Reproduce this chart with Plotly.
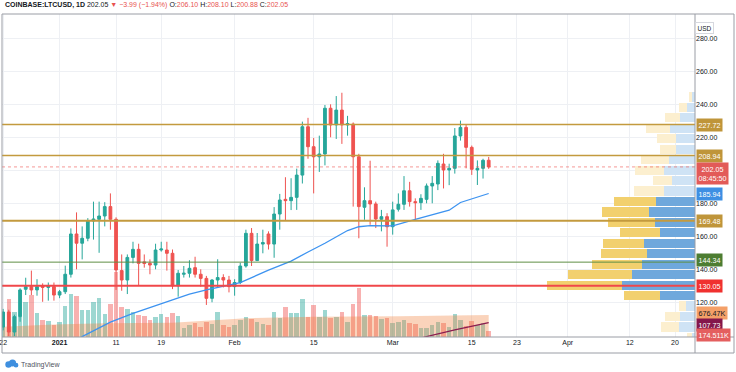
import plotly.graph_objects as go
import pandas as pd

# ---------------- data ----------------
first_day = "2020-12-22"
opens  = [105.0,114.1,102.0,111.3,127.9,129.5,127.5,130.0,129.0,129.5,
          124.4,126.4,137.0,161.4,155.8,158.8,169.3,170.3,172.3,178.0,
          170.3,139.2,133.5,147.2,152.1,144.5,143.6,142.6,151.7,151.7,
          149.7,130.0,137.0,137.6,141.0,137.0,134.5,122.4,133.5,135.0,
          133.5,129.5,132.0,142.0,161.8,145.3,155.3,161.4,155.3,173.5,
          182.4,181.6,183.6,197.1,226.4,214.3,208.2,209.9,237.6,227.5,
          236.5,227.5,228.0,208.2,177.6,181.6,179.6,170.3,171.9,165.8,
          176.4,179.4,187.6,181.0,180.4,182.4,190.5,191.7,203.8,200.2,
          201.2,220.8,226.0,213.9,200.2,201.2,206.10]
highs  = [116.0,115.5,112.5,128.5,134.9,139.2,134.0,131.5,132.0,132.0,
          127.5,142.2,164.8,174.5,166.0,171.0,181.0,181.0,180.7,186.0,
          171.5,149.0,149.0,156.7,155.5,149.0,146.0,155.5,156.7,156.7,
          152.0,139.6,142.0,145.5,147.6,140.0,136.0,134.0,146.1,137.0,
          136.0,134.0,144.0,164.0,165.0,162.0,164.0,163.0,177.7,185.7,
          195.8,195.2,201.0,229.5,231.8,219.6,221.0,239.6,240.0,245.0,
          247.0,233.0,229.0,210.0,189.7,205.8,181.0,176.0,174.0,181.0,
          186.0,196.5,193.0,183.0,185.5,192.0,196.5,206.0,210.0,204.0,
          225.6,230.1,228.0,215.0,206.0,207.0,208.10]
lows   = [103.0,99.5,99.5,108.2,124.4,124.4,124.0,120.3,121.0,121.0,
          122.5,125.0,135.0,140.0,146.0,157.0,158.0,150.0,166.0,164.0,
          127.5,127.0,125.0,143.6,130.5,141.0,137.0,140.0,150.7,139.2,
          128.0,123.4,135.0,135.0,135.0,129.5,118.4,120.0,129.0,129.0,
          126.0,124.0,131.0,141.0,142.0,145.0,149.7,152.0,147.0,164.0,
          169.9,175.9,176.0,192.0,207.0,186.0,199.0,203.0,220.0,219.0,
          216.0,221.0,178.0,158.8,170.0,167.0,165.0,163.0,153.7,161.0,
          175.0,176.0,178.0,169.9,176.0,180.0,180.0,188.0,189.0,191.0,
          198.0,218.0,201.2,197.2,191.1,195.0,200.88]
closes = [114.1,102.0,111.3,127.5,129.5,127.5,129.5,129.0,130.0,124.4,
          126.4,137.0,161.4,155.8,158.8,169.3,170.5,172.3,178.0,170.3,
          139.6,133.5,147.2,152.1,143.6,143.5,142.6,151.7,152.3,149.7,
          130.0,137.6,137.6,140.6,137.0,134.5,122.4,133.5,135.0,133.5,
          129.5,132.0,142.0,161.8,145.3,155.3,156.2,155.3,173.5,182.0,
          181.6,183.6,197.1,226.4,214.3,208.2,209.9,237.6,227.5,236.5,
          227.5,228.3,208.2,178.0,181.6,179.6,170.5,171.9,165.8,176.0,
          179.4,187.6,181.0,180.4,183.0,190.5,192.1,204.2,200.2,201.2,
          220.8,226.0,213.9,200.6,201.2,206.04,202.05]
volumes_k = [777,1157,777,623,1084,1289,728,522,500,368,
             470,961,1320,1259,829,829,1084,1207,706,1013,
             1996,921,860,768,675,645,522,614,706,614,
             737,645,276,368,430,307,461,399,768,368,
             307,368,522,614,553,461,399,368,768,583,
             921,737,737,1167,614,982,614,829,583,614,
             768,461,1013,1504,675,675,645,553,583,430,
             461,522,430,399,276,276,368,461,430,307,
             706,522,338,491,368,430,174.511]

ma_dates = ["2021-01-04","2021-01-05","2021-01-10","2021-01-14","2021-01-21",
            "2021-01-24","2021-01-27","2021-02-02","2021-02-07","2021-02-11",
            "2021-02-14","2021-02-17","2021-02-21","2021-02-23","2021-02-25",
            "2021-02-28","2021-03-01","2021-03-05","2021-03-11","2021-03-13",
            "2021-03-18"]
ma_values = [96.5,99.2,108.0,113.3,121.4,125.0,127.5,131.9,139.5,145.0,
             150.5,155.8,163.5,165.8,166.5,166.6,166.3,170.2,175.8,180.5,185.94]

ma_long_dates = ["2021-03-05","2021-03-06","2021-03-12","2021-03-18"]
ma_long_values = [97.8,98.4,103.3,107.73]

vol_ma_dates = ["2020-12-22","2020-12-31","2021-01-09","2021-01-21",
                "2021-02-03","2021-02-15","2021-03-02","2021-03-18"]
vol_ma_values_k = [316,380,420,440,574,623,640,676.47]

levels = [227.72, 208.94, 169.48, 144.34, 130.05]
level_colors = ["#c39a3e", "#c39a3e", "#c39a3e", "#5f8f45", "#f0474a"]
level_widths = [1.5, 1.5, 2, 1, 2]

vp_prices = [98.8,105.1,111.4,117.8,124.1,130.4,136.8,143.1,149.4,155.8,
             162.1,168.4,174.8,181.1,187.4,193.8,200.1,206.4,212.8,219.1,
             225.4,231.8,238.1,244.4]
vp_up_k   = [170,785,735,450,1750,3670,3160,2670,2420,2570,
             1735,1985,2320,1950,1570,1150,1535,1285,950,950,
             1250,735,420,170]
vp_down_k = [230,915,750,335,1820,3715,3175,2500,2280,2015,
             2000,2385,2330,2120,1465,970,1465,1400,785,970,
             1185,750,365,115]
vp_in_value_area = [False,False,False,False,True,True,True,True,True,True,
                    True,True,True,True,False,False,False,False,False,False,
                    False,False,False,False]

x_ticks = ["2020-12-22","2021-01-01","2021-01-11","2021-01-19","2021-02-01",
           "2021-02-15","2021-03-01","2021-03-15","2021-03-23","2021-04-01",
           "2021-04-12","2021-04-20"]
x_tick_text = ["22","<b>2021</b>","11","19","Feb","15","Mar","15","23","Apr","12","20"]
y_ticks = [120,140,160,180,200,220,240,260,280]
# 200.00 is covered by the last-price badge in the reference
y_tick_text = ["" if v == 200 else f"{v:.2f}" for v in y_ticks]

countdown = "08:45:50"
symbol = "COINBASE:LTCUSD, 1D"

# ---------------- figure ----------------
dates = pd.date_range(first_day, periods=len(opens), freq="D")
UP, DOWN = "#26a69a", "#ef5350"
FONT = "Liberation Sans, Arial, sans-serif"

vol_colors = ["rgba(38,166,154,0.45)" if c >= o else "rgba(239,83,80,0.45)"
              for o, c in zip(opens, closes)]

fig = go.Figure()
# volume (base subplot x/y)
fig.add_trace(go.Bar(x=dates, y=volumes_k, marker=dict(color=vol_colors, line=dict(width=0)),
                     width=0.8 * 86400000, xaxis="x", yaxis="y", hoverinfo="skip"))
fig.add_trace(go.Scatter(x=pd.to_datetime(vol_ma_dates), y=vol_ma_values_k, mode="lines",
                         line=dict(color="rgba(240,130,60,0.0)", width=0), fill="tozeroy",
                         fillcolor="rgba(240,130,60,0.35)", xaxis="x", yaxis="y", hoverinfo="skip"))

# volume profile (x2 / y2)
up_cols = ["#6fa8dc" if v else "#cfe3f5" for v in vp_in_value_area]
dn_cols = ["#f2d06e" if v else "#fcefcf" for v in vp_in_value_area]
fig.add_trace(go.Bar(y=vp_prices, x=vp_up_k, base=[0] * len(vp_up_k), orientation="h",
                     width=5.6, marker=dict(color=up_cols, line=dict(width=0)),
                     xaxis="x2", yaxis="y2", hoverinfo="skip"))
fig.add_trace(go.Bar(y=vp_prices, x=vp_down_k, base=vp_up_k, orientation="h",
                     width=5.6, marker=dict(color=dn_cols, line=dict(width=0)),
                     xaxis="x2", yaxis="y2", hoverinfo="skip"))

# candles (x / y2)
fig.add_trace(go.Candlestick(x=dates, open=opens, high=highs, low=lows, close=closes,
                             increasing=dict(line=dict(color=UP, width=1), fillcolor=UP),
                             decreasing=dict(line=dict(color=DOWN, width=1), fillcolor=DOWN),
                             whiskerwidth=0, xaxis="x", yaxis="y2", hoverinfo="skip"))
fig.add_trace(go.Scatter(x=pd.to_datetime(ma_dates), y=ma_values, mode="lines",
                         line=dict(color="#3d93f0", width=1.3), xaxis="x", yaxis="y2",
                         hoverinfo="skip"))
fig.add_trace(go.Scatter(x=pd.to_datetime(ma_long_dates), y=ma_long_values, mode="lines",
                         line=dict(color="#8a1c4f", width=1.2), xaxis="x", yaxis="y2",
                         hoverinfo="skip"))

shapes = []
# level lines
for v, c, w in zip(levels, level_colors, level_widths):
    shapes.append(dict(type="line", xref="paper", x0=0, x1=1, yref="y2", y0=v, y1=v,
                       line=dict(color=c, width=w), layer="above"))
# last price dotted line
shapes.append(dict(type="line", xref="paper", x0=0, x1=1, yref="y2", y0=closes[-1], y1=closes[-1],
                   line=dict(color="rgba(239,83,80,0.6)", width=1, dash="dot"), layer="above"))

# frame (pixel positions converted to paper units)
PW, PH = 693.0, 323.0
def px(xp):
    return (xp - 2) / PW
def py(yp):
    return (337 - yp) / PH
frame_col = "#9a9da5"
for x0, y0, x1, y1 in [(2, 14, 734, 14), (2, 353, 734, 353), (2, 14, 2, 353),
                       (734, 14, 734, 353), (695, 14, 695, 353), (2, 337, 734, 337)]:
    shapes.append(dict(type="line", xref="paper", yref="paper", x0=px(x0), x1=px(x1),
                       y0=py(y0), y1=py(y1), line=dict(color=frame_col, width=1), layer="above"))
# TradingView logo (little cloud)
for cx, cy, r in [(8.5, 364.5, 3.2), (12.5, 363.0, 3.6), (16.0, 365.2, 2.4)]:
    shapes.append(dict(type="circle", xref="paper", yref="paper", x0=px(cx - r), x1=px(cx + r),
                       y0=py(cy + r), y1=py(cy - r), fillcolor="#3f8fdf", line=dict(width=0)))

annotations = []
def price_label(y, text, bg, fg="white", yref="y2", yshift=0, yanchor="middle"):
    annotations.append(dict(x=1, xref="paper", y=y, yref=yref, text=text, showarrow=False,
                            xanchor="left", yanchor=yanchor, xshift=1, yshift=yshift,
                            bgcolor=bg, borderpad=1.5,
                            font=dict(color=fg, size=7.2, family=FONT)))

price_label(levels[0], f"{levels[0]:.2f}", "#bf953a")
price_label(levels[1], f"{levels[1]:.2f}", "#bf953a")
price_label(closes[-1], f"{closes[-1]:.2f}<br>{countdown}", "#e25b58", yshift=5, yanchor="top")
price_label(ma_values[-1], f"{ma_values[-1]:.2f}", "#3d8fe3")
price_label(levels[2], f"{levels[2]:.2f}", "#bf953a")
price_label(levels[3], f"{levels[3]:.2f}", "#4d7d32", yshift=2.5)
price_label(levels[4], f"{levels[4]:.2f}", "#f0312f")
price_label(vol_ma_values_k[-1], f"{vol_ma_values_k[-1]:.2f}K", "#f4a068", fg="#131722",
            yref="y", yshift=1.5)
price_label(ma_long_values[-1], f"{ma_long_values[-1]:.2f}", "#84174b", yshift=-2.5)
price_label(volumes_k[-1], f"{volumes_k[-1]:.3f}K", "#e45f5f", yref="y", yshift=-3.5)

# USD badge
annotations.append(dict(x=px(714), y=py(22), xref="paper", yref="paper", text="USD",
                        showarrow=False, font=dict(size=6.5, color="#131722", family=FONT),
                        bordercolor="#d6d8de", borderwidth=1, borderpad=1.5, bgcolor="white"))

# header
o, h, l, c = opens[-1], highs[-1], lows[-1], closes[-1]
chg = c - closes[-2]
pct = chg / closes[-2] * 100
red = "#e8534f"
sign = "−" if chg < 0 else "+"
header = (f"<b>{symbol}</b> {c:.2f} <span style='color:{red}'>▼ {sign}{abs(chg):.2f} "
          f"({sign}{abs(pct):.2f}%)</span> "
          f"O:<span style='color:{red}'>{o:.2f}</span> "
          f"H:<span style='color:{red}'>{h:.2f}</span> "
          f"L:<span style='color:{red}'>{l:.2f}</span> "
          f"C:<span style='color:{red}'>{c:.2f}</span>")
annotations.append(dict(x=px(3), y=py(5.5), xref="paper", yref="paper", text=header,
                        showarrow=False, xanchor="left", yanchor="middle",
                        font=dict(size=7, color="#131722", family=FONT)))
annotations.append(dict(x=px(19), y=py(364.5), xref="paper", yref="paper", text="TradingView",
                        showarrow=False, xanchor="left", yanchor="middle",
                        font=dict(size=7, color="#50535e", family=FONT)))

x_range = ["2020-12-21 19:12", "2021-04-23 13:00"]
fig.update_layout(
    width=736, height=372,
    margin=dict(l=2, r=41, t=14, b=35),
    paper_bgcolor="white", plot_bgcolor="white",
    showlegend=False, barmode="overlay", bargap=0,
    font=dict(family=FONT, size=7, color="#131722"),
    xaxis=dict(type="date", range=x_range, tickvals=pd.to_datetime(x_ticks), ticktext=x_tick_text,
               showgrid=True, gridcolor="#eef0f4", gridwidth=1, zeroline=False, showline=False,
               ticks="", tickfont=dict(size=7, color="#131722"), rangeslider=dict(visible=False),
               ticklabeloverflow="allow", automargin=False, fixedrange=True),
    xaxis2=dict(overlaying="x", range=[PW * 50, 0], visible=False, showgrid=False,
                automargin=False, fixedrange=True),
    yaxis=dict(range=[0, PH * 30.7], visible=False, showgrid=False, automargin=False,
               fixedrange=True),
    yaxis2=dict(overlaying="y", side="right", range=[98.97, 294.73], tickvals=y_ticks,
                ticktext=y_tick_text, showgrid=True, gridcolor="#eef0f4", gridwidth=1,
                zeroline=False, showline=False, ticks="", tickfont=dict(size=7, color="#131722"),
                automargin=False, fixedrange=True),
    shapes=shapes, annotations=annotations,
)

fig.write_html("out.html", config={"displayModeBar": False},
               post_script="document.body.style.margin='0';")
